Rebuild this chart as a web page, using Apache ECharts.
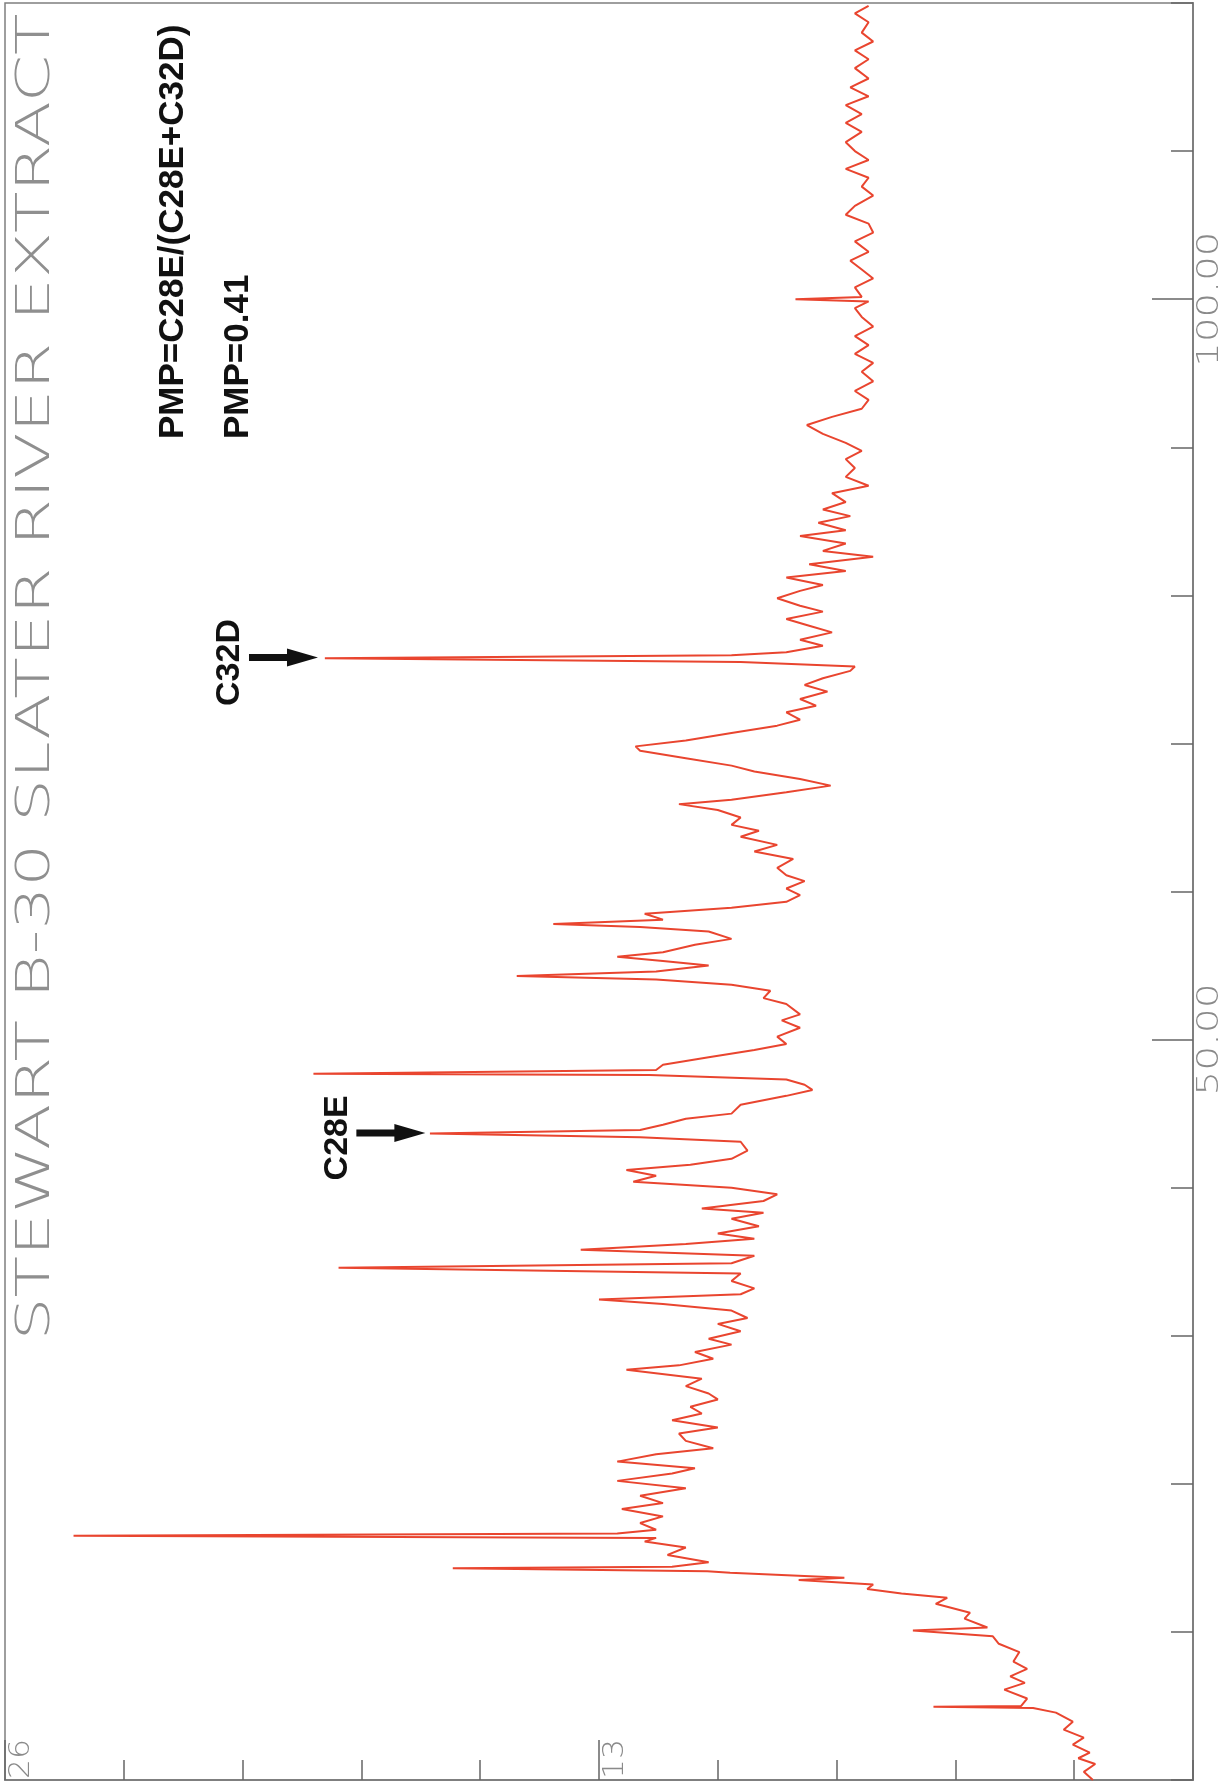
<!DOCTYPE html>
<html><head><meta charset="utf-8">
<script src="https://cdn.jsdelivr.net/npm/echarts@6/dist/echarts.min.js"></script>
<style>html,body{margin:0;padding:0;background:#fff}#c{width:1229px;height:1790px}</style>
</head><body><div id="c"></div>
<script>
// Retention time (minutes) and detector response
const retentionTimes = [
0.0,0.55,1.08,1.47,1.85,2.39,2.86,3.4,3.94,4.55,4.86,4.94,5.0,5.5,6.1,6.56,7.0,7.5,8.0,8.64,
9.2,9.7,10.1,10.3,10.9,11.3,11.9,12.3,12.6,12.9,13.2,13.5,13.65,14.0,14.1,14.3,14.4,14.7,15.2,15.7,
16.1,16.35,16.5,16.65,16.9,17.35,17.8,18.3,18.7,19.2,19.7,20.2,20.7,21.05,21.5,22.0,22.4,22.9,23.4,23.8,
24.3,24.75,25.2,25.7,26.1,26.6,27.1,27.7,28.0,28.45,28.9,29.4,29.8,30.3,30.8,31.2,31.7,32.15,32.45,32.8,
33.2,33.7,34.2,34.6,34.9,35.4,35.8,36.2,36.55,36.9,37.4,37.9,38.3,38.6,39.1,39.55,40.0,40.4,40.8,41.2,
41.55,41.95,42.5,43.1,43.4,43.65,43.9,44.25,44.65,45.0,45.6,46.2,46.6,46.95,47.3,47.6,47.7,47.95,48.3,48.8,
49.3,49.7,50.2,50.8,51.3,51.7,52.4,52.8,53.3,53.7,54.05,54.3,54.6,55.0,55.3,55.6,55.9,56.4,56.8,57.3,
57.6,57.8,58.1,58.5,58.9,59.3,59.75,60.2,60.7,61.1,61.6,62.2,62.7,63.15,63.7,64.1,64.5,65.0,65.5,65.9,
66.2,66.7,67.15,67.6,68.1,68.5,69.0,69.5,69.8,70.2,70.7,71.2,71.6,72.1,72.55,73.0,73.5,73.95,74.4,74.9,
75.2,75.5,75.75,75.95,76.15,76.6,77.0,77.5,77.95,78.4,78.9,79.3,79.8,80.3,80.7,81.2,81.65,82.1,82.6,83.0,
83.5,84.0,84.4,84.9,85.35,85.8,86.3,86.9,87.4,88.0,88.6,89.2,89.75,90.3,90.9,91.5,92.05,92.6,93.2,93.8,
94.45,95.1,95.7,96.3,96.9,97.5,98.15,98.8,99.4,99.85,100.0,100.15,100.8,101.4,102.0,102.6,103.2,103.9,104.5,105.1,
105.7,106.3,107.0,107.6,108.2,108.8,109.4,110.0,110.6,111.3,111.9,112.5,113.1,113.7,114.3,114.9,115.6,116.2,116.8,117.4,
118.0,118.7,119.3,119.8
];
const responses = [
2.19,2.39,2.14,2.51,2.26,2.63,2.39,2.83,2.63,3.0,3.5,5.68,3.76,3.63,4.13,3.68,4.0,3.63,3.93,3.8,
4.25,4.38,6.13,4.5,5.0,4.88,5.63,5.38,6.38,7.13,7.0,8.63,7.63,10.13,10.63,16.2,11.4,10.6,11.5,11.1,
12.0,11.75,24.5,12.6,11.75,12.1,11.6,12.5,11.6,12.1,11.1,12.6,11.4,10.9,12.6,11.75,10.5,11.1,11.25,10.4,
11.4,10.75,11.0,10.4,10.6,11.1,10.75,12.4,11.25,10.5,10.9,10.1,10.6,9.9,10.4,9.75,10.1,11.6,13.0,9.9,
9.6,10.1,9.9,18.7,10.1,9.6,13.4,11.1,9.6,10.4,9.5,10.1,9.4,10.75,9.4,9.1,10.1,12.25,11.75,12.4,
11.0,10.1,9.75,9.9,12.1,16.7,12.1,11.6,11.1,10.1,9.9,8.9,8.33,8.5,8.9,11.9,19.25,11.75,11.6,10.6,
9.6,8.9,9.1,8.6,9.0,8.6,8.9,9.4,9.25,10.1,11.75,14.8,11.75,10.6,11.6,12.6,11.6,10.9,10.1,10.6,
12.1,14.0,11.6,12.0,10.1,8.9,8.6,8.9,8.5,8.9,9.1,8.75,9.6,9.1,9.9,9.5,10.1,9.9,10.4,11.25,
10.1,8.9,7.93,8.6,9.6,10.1,11.1,12.1,12.2,11.1,10.1,9.1,8.6,8.9,8.25,8.6,8.0,8.5,8.1,7.5,
7.4,9.9,19.0,10.1,8.9,8.1,8.6,7.9,8.4,8.9,8.1,8.6,9.1,8.6,8.1,8.9,7.6,8.4,7.0,8.1,
7.6,8.6,7.6,8.2,7.5,8.1,7.6,7.9,7.1,7.6,7.4,7.6,7.25,7.6,8.1,8.45,7.9,7.25,7.1,7.4,
7.0,7.25,7.0,7.4,7.1,7.4,7.0,7.25,7.4,7.1,8.7,7.25,7.4,7.0,7.25,7.5,7.1,7.4,7.0,7.1,
7.6,7.4,7.0,7.25,7.1,7.6,7.1,7.4,7.6,7.25,7.6,7.25,7.6,7.1,7.5,7.1,7.4,7.1,7.4,7.0,
7.25,7.1,7.4,7.1
];
const timeTickValues = [50, 100];
const timeTickLabels = ['50.00', '100.00'];
const responseTickValues = [13, 26];
const responseTickLabels = ['13', '26'];
const chartTitle = 'STEWART B-30 SLATER RIVER EXTRACT';
const noteLines = ['PMP=C28E/(C28E+C32D)', 'PMP=0.41'];
const peakNames = ['C28E', 'C32D'];
const peakTimes = [43.7, 75.8];
const arrowTipResponses = [16.8, 19.15];

const lineColor = '#e9452f';
const frameColor = '#7f7f7f';
const chart = echarts.init(document.getElementById('c'), null, {renderer: 'canvas'});
const seriesData = retentionTimes.map((t, i) => [responses[i], t]);

function xAxisCfg(extra) {
  return Object.assign({
    type: 'value', min: 0, max: 26, inverse: true, position: 'bottom',
    axisLabel: {show: false}, splitLine: {show: false}
  }, extra);
}
function yAxisCfg(extra) {
  return Object.assign({
    type: 'value', min: 0, max: 120, position: 'right',
    axisLabel: {show: false}, splitLine: {show: false}
  }, extra);
}

chart.setOption({
  animation: false,
  backgroundColor: '#ffffff',
  grid: {left: 5, top: 3, right: 36, bottom: 10, show: true, borderColor: frameColor, borderWidth: 1.5},
  xAxis: [
    xAxisCfg({interval: 2.6, axisLine: {show: true, lineStyle: {color: frameColor, width: 2}},
      axisTick: {show: true, inside: true, length: 20, lineStyle: {color: '#666', width: 1.5}}}),
    xAxisCfg({interval: 13, axisLine: {show: false},
      axisTick: {show: true, inside: true, length: 40, customValues: responseTickValues, lineStyle: {color: '#666', width: 1.5}}})
  ],
  yAxis: [
    yAxisCfg({interval: 10, axisLine: {show: true, lineStyle: {color: frameColor, width: 2}},
      axisTick: {show: true, inside: true, length: 22, lineStyle: {color: '#666', width: 1.5}}}),
    yAxisCfg({interval: 50, axisLine: {show: false},
      axisTick: {show: true, inside: true, length: 41, customValues: timeTickValues, lineStyle: {color: '#666', width: 1.5}}})
  ],
  series: [{
    type: 'line', xAxisIndex: 0, yAxisIndex: 0, data: seriesData,
    showSymbol: false, symbol: 'none', sampling: null,
    lineStyle: {color: lineColor, width: 2}, z: 3
  }]
});

const measureCtx = document.createElement('canvas').getContext('2d');
function measure(text, weight, size, family) {
  measureCtx.font = weight + ' ' + size + 'px ' + family;
  return measureCtx.measureText(text).width;
}
function px(v, t) { return chart.convertToPixel({seriesIndex: 0}, [v, t]); }

const thinFamily = '"DejaVu Sans"';
const elements = [];
// Plotter-style stretched text, reading bottom to top
function plotterText(text, cx, cy, size, targetLen, color, align) {
  const w = measure(text, 200, size, thinFamily);
  elements.push({
    type: 'text', x: cx, y: cy, rotation: Math.PI / 2, scaleX: targetLen / w, z: 10,
    style: {text: text, fontFamily: 'DejaVu Sans', fontWeight: 200, fontSize: size,
      fill: color, align: align || 'center', verticalAlign: 'middle'}
  });
}
// Title
plotterText(chartTitle, 37, 677, 46, 1327, '#8f8f8f');
// Time axis labels
timeTickLabels.forEach((lab, i) => {
  const p = px(0, timeTickValues[i]);
  plotterText(lab, 1210, p[1], 31, 22.5 * lab.length, '#8a8a8a');
});
// Response axis labels
responseTickLabels.forEach((lab, i) => {
  const p = px(responseTickValues[i], 0);
  plotterText(lab, p[0] + 17, p[1] - 1, 28, 20 * lab.length, '#8a8a8a', 'left');
});
// Notes
const noteX = [173, 238];
noteLines.forEach((s, i) => {
  elements.push({type: 'text', x: noteX[i], y: 439, rotation: Math.PI / 2, z: 10,
    style: {text: s, fontFamily: '"Liberation Sans", Arial, sans-serif', fontWeight: 'bold', fontSize: 35,
      fill: '#111', align: 'left', verticalAlign: 'middle'}});
});
// Peak arrows and labels
peakNames.forEach((name, i) => {
  const tip = px(arrowTipResponses[i], peakTimes[i]);
  const x = tip[0], y = tip[1];
  const tail = x - 69, headBase = x - 31;
  elements.push({type: 'polygon', z: 10, shape: {points: [
    [tail, y - 3.5], [headBase, y - 3.5], [headBase, y - 9], [x, y], [headBase, y + 9], [headBase, y + 3.5], [tail, y + 3.5]
  ]}, style: {fill: '#111'}});
  elements.push({type: 'text', x: tail - 19, y: y + 5, rotation: Math.PI / 2, z: 10,
    style: {text: name, fontFamily: '"Liberation Sans", Arial, sans-serif', fontWeight: 'bold', fontSize: 34,
      fill: '#111', align: 'center', verticalAlign: 'middle'}});
});
chart.setOption({graphic: {elements: elements}});
</script>
</body></html>
